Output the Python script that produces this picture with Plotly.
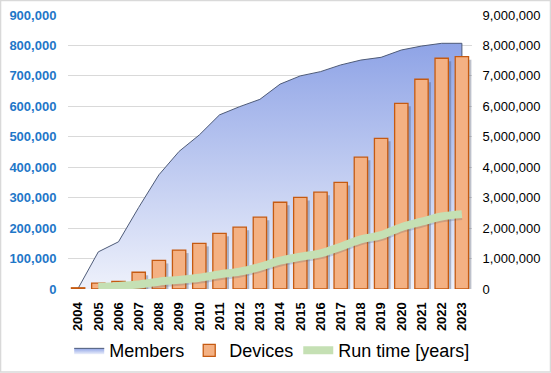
import plotly.graph_objects as go

years = [str(y) for y in range(2004, 2024)]
members = [2000, 122000, 155000, 268000, 375000, 452000, 506000, 572000, 599000, 623000,
           673000, 700000, 714000, 736000, 752000, 761000, 785000, 798000, 807000, 807000]
devices = [40000, 190000, 250000, 550000, 940000, 1280000, 1500000, 1830000, 2030000, 2360000,
           2850000, 3010000, 3180000, 3500000, 4330000, 4950000, 6100000, 6890000, 7580000, 7630000]
runtime = [None, 70000, 100000, 150000, 240000, 300000, 370000, 480000, 570000, 730000,
           930000, 1060000, 1170000, 1390000, 1630000, 1770000, 2030000, 2210000, 2380000, 2460000]
left_ticks = list(range(0, 900001, 100000))
right_ticks = list(range(0, 9000001, 1000000))

FONT = "Liberation Sans, Arial, sans-serif"

fig = go.Figure()

# Members area (left axis)
fig.add_trace(go.Scatter(
    x=years, y=members, name="Members", mode="lines", fill="tozeroy",
    line=dict(color="#4E5B78", width=1),
    fillgradient=dict(type="vertical", start=0, stop=810000,
                      colorscale=[[0, "#EEF1FB"], [1, "#8EA3E6"]]),
    yaxis="y", legendrank=1,
))
# right edge of the area
fig.add_trace(go.Scatter(
    x=[years[-1], years[-1]], y=[members[-1], 0], mode="lines",
    line=dict(color="#4E5B78", width=1), showlegend=False, hoverinfo="skip", yaxis="y",
))

# Bar shadows
shadow_vals = [max(v - 100000, 0) for v in devices]
fig.add_trace(go.Bar(
    x=years, y=shadow_vals, yaxis="y2", width=0.66, offset=-0.19,
    marker=dict(color="rgba(70,80,110,0.35)", line=dict(width=0)),
    showlegend=False, hoverinfo="skip",
))
# Devices bars (right axis)
fig.add_trace(go.Bar(
    x=years, y=devices, name="Devices", yaxis="y2", width=0.66, offset=-0.33,
    marker=dict(color="#F4B183", line=dict(color="#C55A11", width=1.3)),
    legendrank=2,
))
# Run time line shadow
fig.add_trace(go.Scatter(
    x=years, y=[None if v is None else v - 60000 for v in runtime], yaxis="y2",
    mode="lines", line=dict(color="rgba(90,100,110,0.25)", width=8, shape="spline"),
    showlegend=False, hoverinfo="skip",
))
# Run time line
fig.add_trace(go.Scatter(
    x=years, y=runtime, name="Run time [years]", yaxis="y2", mode="lines",
    line=dict(color="#C5E0B4", width=8, shape="spline"),
    legendrank=3,
))

fig.update_layout(
    width=551, height=373,
    margin=dict(l=68, r=79, t=15, b=84, autoexpand=False),
    paper_bgcolor="white", plot_bgcolor="white",
    barmode="overlay",
    font=dict(family=FONT, color="black"),
    xaxis=dict(type="category", tickangle=-90, showgrid=False, automargin=False,
               tickfont=dict(family=FONT, size=13, color="black", weight="bold"),
               ticks="outside", ticklen=7, tickcolor="rgba(0,0,0,0)",
               range=[-0.5, len(years) - 0.5], showline=False, zeroline=False),
    yaxis=dict(range=[0, 900000], tickvals=left_ticks, tickformat=",", automargin=False,
               showgrid=True, gridcolor="#D9D9D9", gridwidth=1, zeroline=False,
               tickfont=dict(family=FONT, size=13, color="#1F77C8", weight="bold"),
               ticks="outside", ticklen=8, tickcolor="rgba(0,0,0,0)", showline=False),
    yaxis2=dict(range=[0, 9000000], tickvals=right_ticks, tickformat=",", automargin=False,
                overlaying="y", side="right", showgrid=False, zeroline=False,
                tickfont=dict(family=FONT, size=13, color="black"),
                ticks="outside", ticklen=7, tickcolor="rgba(0,0,0,0)", showline=False),
    legend=dict(orientation="h", x=0.003, xanchor="left", y=-0.225, yanchor="middle",
                font=dict(family=FONT, size=18, color="black"),
                itemwidth=30, traceorder="normal", bgcolor="rgba(0,0,0,0)"),
    showlegend=True,
    shapes=[dict(type="rect", xref="paper", yref="paper",
                 x0=-0.167, x1=1.1943, y0=-0.3029, y1=1.0529,
                 line=dict(color="#D9D9D9", width=1.5), fillcolor="rgba(0,0,0,0)",
                 layer="below")],
)

fig.write_html("out.html", config={"displayModeBar": False},
               post_script="document.body.style.margin='0';")
